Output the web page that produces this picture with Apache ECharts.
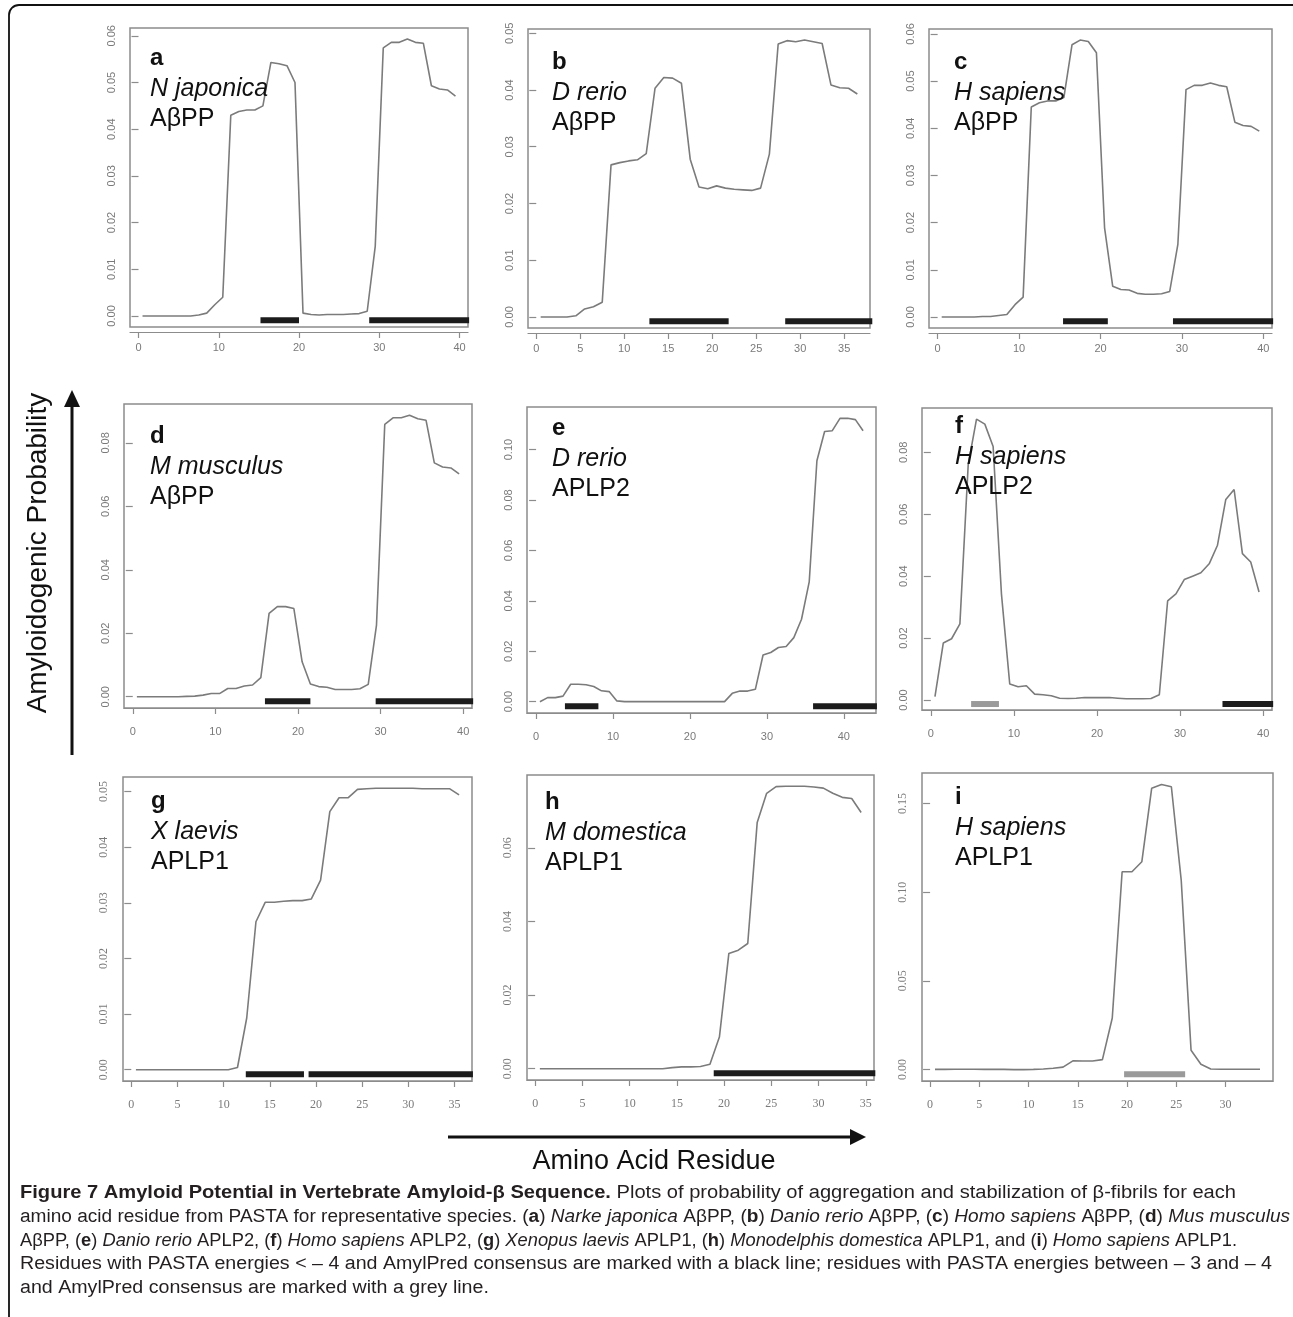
<!DOCTYPE html>
<html>
<head>
<meta charset="utf-8">
<title>Figure 7 Amyloid Potential</title>
<script src="https://cdn.jsdelivr.net/npm/echarts@6/dist/echarts.min.js"></script>
<style>
  html, body { margin: 0; padding: 0; background: #fff; }
  #main-chart { width: 1293px; height: 1317px; }
</style>
</head>
<body>
<div id="main-chart"></div>
<script>
// panel labels
const panelLetters = ['a', 'b', 'c', 'd', 'e', 'f', 'g', 'h', 'i'];
const speciesNames = ['N japonica', 'D rerio', 'H sapiens', 'M musculus', 'D rerio', 'H sapiens', 'X laevis', 'M domestica', 'H sapiens'];
const proteinNames = ['AβPP', 'AβPP', 'AβPP', 'AβPP', 'APLP2', 'APLP2', 'APLP1', 'APLP1', 'APLP1'];

// amyloidogenic probability per residue (residue i plotted at i + 0.5)
const probA = [0, 0, 0, 0, 0, 0, 0, 0.0002, 0.0006, 0.0024, 0.004, 0.043, 0.0438, 0.0441, 0.0441, 0.045, 0.0543, 0.054, 0.0536, 0.050,
  0.0006, 0.0003, 0.0002, 0.0003, 0.0003, 0.0003, 0.0004, 0.0005, 0.001, 0.0149, 0.0574, 0.0586, 0.0586, 0.0593, 0.0586, 0.0584, 0.0493, 0.0486, 0.0484, 0.0471];
const probB = [0, 0, 0, 0, 0.0002, 0.0014, 0.0018, 0.0026, 0.0268, 0.0272, 0.0275, 0.0277, 0.0288, 0.0403, 0.0422, 0.0421, 0.0412, 0.0278, 0.0229,
  0.0226, 0.0231, 0.0227, 0.0225, 0.0224, 0.0223, 0.0227, 0.0287, 0.0481, 0.0487, 0.0485, 0.0488, 0.0485, 0.0482, 0.0409, 0.0404, 0.0403, 0.0393];
const probC = [0, 0, 0, 0, 0, 0.0001, 0.0001, 0.0003, 0.0005, 0.0026, 0.0042, 0.0445, 0.0454, 0.0458, 0.0458, 0.0465, 0.0577, 0.0587, 0.0584, 0.056,
  0.0189, 0.0065, 0.0058, 0.0057, 0.0050, 0.0048, 0.0048, 0.0049, 0.0054, 0.0154, 0.0482, 0.0491, 0.0491, 0.0496, 0.0491, 0.0488, 0.0413, 0.0406, 0.0404, 0.0394];
const probD = [0, 0, 0, 0, 0, 0, 0.0001, 0.0002, 0.0005, 0.001, 0.001, 0.0026, 0.0026, 0.0034, 0.0037, 0.006, 0.0263, 0.0284, 0.0284, 0.0278,
  0.011, 0.004, 0.0032, 0.003, 0.0023, 0.0023, 0.0023, 0.0025, 0.0039, 0.0226, 0.0858, 0.0879, 0.0879, 0.0887, 0.0876, 0.0871, 0.0737, 0.0724, 0.0721, 0.0702];
const probE = [0, 0.0016, 0.0016, 0.0022, 0.0069, 0.0069, 0.0067, 0.006, 0.0043, 0.004, 0.0003, 0,
  0, 0, 0, 0, 0, 0, 0, 0, 0, 0, 0, 0, 0,
  0.0033, 0.0042, 0.0042, 0.0049, 0.0185, 0.0195, 0.0215, 0.0219, 0.0254, 0.0327, 0.0475, 0.0956, 0.1072, 0.1075, 0.1124, 0.1124, 0.1119, 0.1075];
const probF = [0.0011, 0.0184, 0.0198, 0.0246, 0.076, 0.0907, 0.0891, 0.0819, 0.0343, 0.0052, 0.0043, 0.0046, 0.0019, 0.0017, 0.0014, 0.0006, 0.0005, 0.0006, 0.0008, 0.0008,
  0.0008, 0.0008, 0.0006, 0.0004, 0.0004, 0.0004, 0.0005, 0.0017, 0.032, 0.0343, 0.0389, 0.04, 0.0411, 0.044, 0.05, 0.0648, 0.068, 0.0473, 0.0446, 0.0349];
const probG = [0, 0, 0, 0, 0, 0, 0, 0, 0, 0, 0, 0.0004, 0.0093, 0.0266, 0.0301, 0.0301, 0.0303, 0.0304, 0.0304, 0.0307,
  0.0341, 0.0464, 0.0489, 0.0489, 0.0504, 0.0505, 0.0506, 0.0506, 0.0506, 0.0506, 0.0506, 0.0505, 0.0505, 0.0505, 0.0505, 0.0494];
const probH = [0, 0, 0, 0, 0, 0, 0, 0, 0, 0, 0, 0, 0, 0, 0.0003, 0.0005, 0.0005, 0.0006, 0.0012, 0.0086,
  0.0313, 0.0322, 0.034, 0.0669, 0.0748, 0.0766, 0.0767, 0.0767, 0.0767, 0.0765, 0.0762, 0.0748, 0.0737, 0.0734, 0.0696];
const probI = [0.0001, 0.0001, 0.0002, 0.0002, 0.0002, 0.0001, 0.0001, 0.0001, 0, 0, 0.0001, 0.0003, 0.0008, 0.0014, 0.0049, 0.0048, 0.0048, 0.0056, 0.0291, 0.1115,
  0.1115, 0.1171, 0.1585, 0.1607, 0.1594, 0.1068, 0.0109, 0.003, 0.0003, 0.0002, 0.0002, 0.0002, 0.0002, 0.0002];

// residue ranges marked under the curves (from, to)
const blackBarsA = [[15.2, 20.0], [28.75, 41.2]];
const blackBarsB = [[12.86, 21.87], [28.3, 38.2]];
const blackBarsC = [[15.4, 20.9], [28.9, 41.2]];
const blackBarsD = [[16.0, 21.5], [29.4, 41.2]];
const blackBarsE = [[3.75, 8.1], [36.0, 44.3]];
const blackBarsF = [[35.1, 41.2]];
const blackBarsG = [[12.4, 18.7], [19.2, 37.0]];
const blackBarsH = [[18.9, 36.0]];
const greyBarsF = [[4.85, 8.2]];
const greyBarsI = [[19.7, 25.9]];

// tick labels
const yTicksA = [0, 0.01, 0.02, 0.03, 0.04, 0.05, 0.06];
const yTicksB = [0, 0.01, 0.02, 0.03, 0.04, 0.05];
const yTicksC = [0, 0.01, 0.02, 0.03, 0.04, 0.05, 0.06];
const yTicksD = [0, 0.02, 0.04, 0.06, 0.08];
const yTicksE = [0, 0.02, 0.04, 0.06, 0.08, 0.10];
const yTicksF = [0, 0.02, 0.04, 0.06, 0.08];
const yTicksG = [0, 0.01, 0.02, 0.03, 0.04, 0.05];
const yTicksH = [0, 0.02, 0.04, 0.06];
const yTicksI = [0, 0.05, 0.10, 0.15];
const xTicksA = [0, 10, 20, 30, 40];
const xTicksB = [0, 5, 10, 15, 20, 25, 30, 35];
const xTicksC = [0, 10, 20, 30, 40];
const xTicksD = [0, 10, 20, 30, 40];
const xTicksE = [0, 10, 20, 30, 40];
const xTicksF = [0, 10, 20, 30, 40];
const xTicksG = [0, 5, 10, 15, 20, 25, 30, 35];
const xTicksH = [0, 5, 10, 15, 20, 25, 30, 35];
const xTicksI = [0, 5, 10, 15, 20, 25, 30];

// layout: plot boxes [left, top, width, height], label anchor [x, first baseline]
const boxes = [[130, 28, 338, 299], [528, 29, 342, 299], [929, 29, 343, 299],
  [124, 404, 348, 304], [527, 407, 349, 306], [922, 408, 350, 302],
  [123, 777, 349, 304], [527, 775, 347, 305], [922, 773, 351, 308]];
const labelAnchors = [[150, 67], [552, 71], [954, 71], [150, 445], [552, 437], [955, 435], [151, 810], [545, 811], [955, 806]];

const probs = [probA, probB, probC, probD, probE, probF, probG, probH, probI];
const blackBars = [blackBarsA, blackBarsB, blackBarsC, blackBarsD, blackBarsE, blackBarsF, blackBarsG, blackBarsH, []];
const greyBars = [[], [], [], [], [], greyBarsF, [], [], greyBarsI];
const yTicks = [yTicksA, yTicksB, yTicksC, yTicksD, yTicksE, yTicksF, yTicksG, yTicksH, yTicksI];
const xTicks = [xTicksA, xTicksB, xTicksC, xTicksD, xTicksE, xTicksF, xTicksG, xTicksH, xTicksI];

const SANS = '"Liberation Sans", Arial, Helvetica, sans-serif';
const NARROW = '"Liberation Sans Narrow", "Liberation Sans", Arial, sans-serif';
const SERIF = '"Liberation Serif", "DejaVu Serif", serif';
const lineColor = '#7b7b7b';
const boxColor = '#8c8c8c';
const tickColor = '#7a7a7a';

const grids = [], xAxes = [], yAxes = [], series = [], graphics = [];

probs.forEach((p, k) => {
  const row = Math.floor(k / 3);
  const [left, top, width, height] = boxes[k];
  // R style 4% padding around the data
  const x0 = 0.5, x1 = p.length - 0.5;
  const lo = Math.min(...p), hi = Math.max(...p);
  const xMin = x0 - 0.04 * (x1 - x0), xMax = x1 + 0.04 * (x1 - x0);
  const yMin = lo - 0.04 * (hi - lo), yMax = hi + 0.04 * (hi - lo);
  const tickFont = row === 2 ? SERIF : NARROW;

  grids.push({
    left: left, top: top, width: width, height: height,
    show: true, borderColor: boxColor, borderWidth: 1.5,
    backgroundColor: 'transparent', containLabel: false, outerBoundsMode: 'none'
  });
  xAxes.push({
    gridIndex: k, type: 'value', min: xMin, max: xMax,
    offset: row === 0 ? 5 : 0,
    axisLine: { show: true, onZero: false, lineStyle: { color: boxColor, width: 1.2 } },
    axisTick: { show: true, length: 6, customValues: xTicks[k], lineStyle: { color: boxColor, width: 1.2 } },
    axisLabel: {
      customValues: xTicks[k], margin: row === 0 ? 10 : 18,
      color: tickColor, fontSize: row === 2 ? 12 : 11, fontFamily: tickFont
    },
    splitLine: { show: false }
  });
  yAxes.push({
    gridIndex: k, type: 'value', min: yMin, max: yMax,
    axisLine: { show: false },
    axisTick: { show: true, length: 7, customValues: yTicks[k], lineStyle: { color: boxColor, width: 1.2 } },
    axisLabel: {
      customValues: yTicks[k], rotate: 90, margin: 13,
      formatter: function (v) { return Number(v).toFixed(2); },
      color: tickColor, fontSize: row === 2 ? 12 : 11, fontFamily: tickFont
    },
    splitLine: { show: false }
  });

  series.push({
    type: 'line', xAxisIndex: k, yAxisIndex: k, silent: true,
    data: p.map((v, i) => [i + 0.5, v]),
    symbol: 'none', lineStyle: { color: lineColor, width: 1.6 }, z: 2
  });
  const barLevel = yMin * 0.4;
  blackBars[k].forEach(b => series.push({
    type: 'line', xAxisIndex: k, yAxisIndex: k, silent: true,
    data: [[b[0], barLevel], [b[1], barLevel]],
    symbol: 'none', lineStyle: { color: '#1c1c1c', width: 6, cap: 'butt' }, z: 3
  }));
  greyBars[k].forEach(b => series.push({
    type: 'line', xAxisIndex: k, yAxisIndex: k, silent: true,
    data: [[b[0], barLevel], [b[1], barLevel]],
    symbol: 'none', lineStyle: { color: '#9a9a9a', width: 6, cap: 'butt' }, z: 3
  }));

  // in-panel text
  const [tx, ty] = labelAnchors[k];
  graphics.push({ type: 'text', x: tx, y: ty - 9, z: 10,
    style: { text: panelLetters[k], fontSize: 24, fontWeight: 'bold', fontFamily: SANS, fill: '#111', verticalAlign: 'middle' } });
  graphics.push({ type: 'text', x: tx, y: ty + 31 - 9, z: 10,
    style: { text: speciesNames[k], fontSize: 25, fontStyle: 'italic', fontFamily: SANS, fill: '#111', verticalAlign: 'middle' } });
  graphics.push({ type: 'text', x: tx, y: ty + 61 - 9, z: 10,
    style: { text: proteinNames[k], fontSize: 25, fontFamily: SANS, fill: '#111', verticalAlign: 'middle' } });
});

// outer frame
graphics.push({ type: 'rect', shape: { x: 9, y: 5, width: 1500, height: 1500, r: 10 },
  style: { fill: 'none', stroke: '#111', lineWidth: 1.8 } });

// axis titles with arrows
graphics.push({ type: 'line', shape: { x1: 72, y1: 755, x2: 72, y2: 404 }, style: { stroke: '#111', lineWidth: 3 } });
graphics.push({ type: 'polygon', shape: { points: [[64, 407], [80, 407], [72, 390]] }, style: { fill: '#111' } });
graphics.push({ type: 'text', x: 38, y: 553, rotation: Math.PI / 2,
  style: { text: 'Amyloidogenic Probability', fontSize: 28, fontFamily: SANS, fill: '#111', align: 'center', verticalAlign: 'middle' } });
graphics.push({ type: 'line', shape: { x1: 448, y1: 1137, x2: 852, y2: 1137 }, style: { stroke: '#111', lineWidth: 3 } });
graphics.push({ type: 'polygon', shape: { points: [[850, 1129], [850, 1145], [866, 1137]] }, style: { fill: '#111' } });
graphics.push({ type: 'text', x: 654, y: 1162,
  style: { text: 'Amino Acid Residue', fontSize: 27, fontFamily: SANS, fill: '#111', align: 'center', verticalAlign: 'middle' } });

// caption
const captionLines = [
  [['b', 'Figure 7 Amyloid Potential in Vertebrate Amyloid-β Sequence.'], ['n', ' Plots of probability of aggregation and stabilization of β-fibrils for each']],
  [['n', 'amino acid residue from PASTA for representative species. ('], ['b', 'a'], ['n', ') '], ['i', 'Narke japonica'], ['n', ' AβPP, ('], ['b', 'b'], ['n', ') '],
    ['i', 'Danio rerio'], ['n', ' AβPP, ('], ['b', 'c'], ['n', ') '], ['i', 'Homo sapiens'], ['n', ' AβPP, ('], ['b', 'd'], ['n', ') '], ['i', 'Mus musculus']],
  [['n', 'AβPP, ('], ['b', 'e'], ['n', ') '], ['i', 'Danio rerio'], ['n', ' APLP2, ('], ['b', 'f'], ['n', ') '], ['i', 'Homo sapiens'], ['n', ' APLP2, ('], ['b', 'g'], ['n', ') '],
    ['i', 'Xenopus laevis'], ['n', ' APLP1, ('], ['b', 'h'], ['n', ') '], ['i', 'Monodelphis domestica'], ['n', ' APLP1, and ('], ['b', 'i'], ['n', ') '], ['i', 'Homo sapiens'], ['n', ' APLP1.']],
  [['n', 'Residues with PASTA energies < – 4 and AmylPred consensus are marked with a black line; residues with PASTA energies between – 3 and – 4']],
  [['n', 'and AmylPred consensus are marked with a grey line.']]
];
const capSize = 18;
const capY = [1193, 1217, 1241, 1264, 1288];
// target line widths; the short last line reuses the scale of the line above
const capWidths = [1216, 1270, 1217, 1252, null];
const ctx = document.createElement('canvas').getContext('2d');
const segFont = k => (k === 'b' ? 'bold ' : k === 'i' ? 'italic ' : '') + capSize + 'px ' + NARROW;
const measure = segs => segs.reduce((s, [k, t]) => { ctx.font = segFont(k); return s + ctx.measureText(t).width; }, 0);
let prevScale = 1;
captionLines.forEach((segs, j) => {
  const sx = capWidths[j] ? capWidths[j] / measure(segs) : prevScale;
  prevScale = sx;
  graphics.push({ type: 'text', x: 20, y: capY[j], scaleX: sx,
    style: {
      text: segs.map(([k, t]) => '{' + k + '|' + t + '}').join(''),
      verticalAlign: 'middle', fill: '#231f20',
      rich: {
        n: { fontSize: capSize, fontFamily: NARROW, fill: '#231f20' },
        b: { fontSize: capSize, fontFamily: NARROW, fontWeight: 'bold', fill: '#231f20' },
        i: { fontSize: capSize, fontFamily: NARROW, fontStyle: 'italic', fill: '#231f20' }
      }
    } });
});

const chartDom = document.getElementById('main-chart');
const myChart = echarts.init(chartDom);
myChart.setOption({
  animation: false,
  backgroundColor: '#fff',
  grid: grids,
  xAxis: xAxes,
  yAxis: yAxes,
  series: series,
  graphic: graphics
});
</script>
</body>
</html>
